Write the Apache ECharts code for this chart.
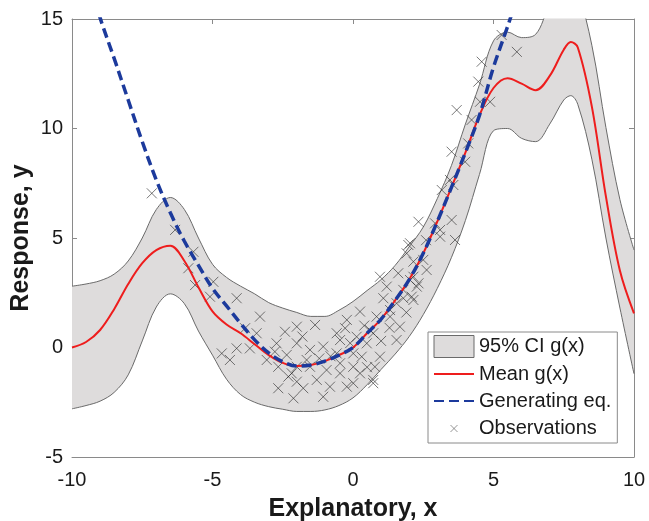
<!DOCTYPE html>
<html>
<head>
<meta charset="utf-8">
<script src="https://cdn.jsdelivr.net/npm/echarts@6/dist/echarts.min.js"></script>
<style>
html,body{margin:0;padding:0;background:#fff;}
#chart{width:649px;height:521px;}
</style>
</head>
<body>
<div id="chart"></div>
<script>
// ---- data ----
var xGrid = [-10,-9.5,-9,-8.5,-8,-7.5,-7,-6.5,-6,-5.5,-5,-4.5,-4,-3.5,-3,-2.5,-2,-1.5,-1,-0.5,0,0.5,1,1.5,2,2.5,3,3.5,4,4.5,5,5.5,6,6.5,7,7.5,7.75,8,8.5,9,9.5,10];
var meanY = [0.0,0.25,0.8,1.75,2.9,3.85,4.45,4.65,3.95,2.75,1.65,1.05,0.65,0.15,-0.35,-0.7,-0.85,-0.8,-0.62,-0.35,0.0,0.65,1.3,2.15,3.1,4.3,5.75,7.3,8.9,10.6,11.85,12.3,12.05,11.75,12.4,13.6,13.95,13.7,11.0,6.9,3.5,1.56];
var upperY = [2.8,2.9,3.05,3.35,3.95,5.0,6.3,6.85,6.3,5.0,3.8,3.2,2.8,2.45,2.05,1.8,1.6,1.42,1.42,1.7,2.1,2.6,3.1,3.75,4.6,5.5,6.8,8.3,10.2,12.0,14.0,14.4,14.15,14.3,15.6,16.3,16.35,16.2,13.8,10.05,6.75,4.45];
var lowerY = [-2.8,-2.65,-2.45,-2.05,-1.25,0.3,1.85,2.45,2.0,0.75,-0.35,-1.45,-2.15,-2.5,-2.7,-2.82,-2.92,-2.92,-2.85,-2.65,-2.3,-1.7,-1.0,-0.3,0.5,1.5,2.7,4.1,5.8,7.9,9.9,10.0,9.55,9.4,10.2,11.3,11.5,11.1,8.6,5.0,1.8,-1.2];
var genX = [-9.5,-9,-8.5,-8,-7.5,-7,-6.5,-6,-5.5,-5,-4.5,-4,-3.5,-3,-2.5,-2,-1.5,-1,-0.5,0,0.5,1,1.5,2,2.5,3,3.5,4,4.5,5,5.5,6];
var genY = [17.2,15.05,13.2,11.3,9.4,7.65,6.15,4.85,3.75,2.7,1.9,1.1,0.35,-0.25,-0.65,-0.85,-0.8,-0.62,-0.35,0.0,0.65,1.3,2.15,3.1,4.3,5.75,7.3,8.9,10.6,12.8,14.65,16.6];
var obsX = [-7.16,-6.33,-5.68,-5.86,-5.62,-4.97,-5.09,-4.14,-3.31,-3.84,-3.43,-2.42,-2.0,-4.67,-4.38,-4.14,-3.67,-3.07,-2.72,-2.78,-2.36,-2.66,-2.3,-2.66,-2.0,-2.12,-2.0,-1.35,-2.0,-1.53,-1.65,-1.06,-0.58,-0.46,-0.28,-0.22,0.25,0.96,1.2,1.08,1.61,1.79,1.97,2.15,2.03,1.32,0.84,0.6,0.13,0.49,0.01,0.31,0.96,0.78,1.55,0.72,-0.94,-0.46,0.01,-0.82,-0.22,-1.06,-1.29,-1.77,-2.18,-1.53,-0.58,1.67,2.15,2.27,5.83,5.29,4.58,4.46,4.88,4.52,3.69,4.22,4.1,3.51,3.99,3.16,3.57,2.33,3.51,3.63,3.1,2.03,1.91,2.5,2.62,2.15,2.33,1.79,2.09,2.92,3.1,1.55,0.72,1.32,3.45,0.25,0.72,0.01,-0.46,-1.2,-0.8,-1.8,1.3,1.0,-0.1,0.4,0.5,1.9,2.6];
var obsY = [7.04,5.37,4.37,3.62,2.85,3.0,2.32,2.25,1.41,0.88,0.65,0.72,0.95,-0.27,-0.57,-0.04,-0.04,-0.57,0.19,-0.19,-0.34,-0.88,-1.33,-1.86,-1.56,-2.32,-0.88,1.03,0.19,-0.11,-0.57,0.04,0.65,0.34,0.88,1.26,1.64,3.23,2.78,2.25,3.39,2.25,4.68,3.92,3.08,1.71,1.41,0.8,0.49,0.19,-0.27,-0.42,-0.42,-0.88,0.34,-1.48,-1.03,-1.18,-0.88,-1.79,-1.79,-2.25,-1.48,-1.86,-1.18,-0.88,-0.27,0.95,2.17,2.78,13.5,14.27,13.05,12.14,11.22,11.22,10.84,10.39,9.32,8.94,8.48,7.19,7.42,5.74,5.82,4.91,5.37,4.76,4.3,4.0,3.54,3.23,2.93,2.63,2.32,5.67,5.06,2.02,0.65,1.41,7.65,-1.18,-1.63,-1.63,-0.72,-0.5,-0.4,0.5,0.9,0.3,0.2,1.0,-0.9,1.6,4.9];
var xTicks = {min: -10, max: 10, interval: 5};
var yTicks = {min: -5, max: 15, interval: 5};

function zip(xa, ya) { return xa.map(function (x, i) { return [x, ya[i]]; }); }

var FONT = '"Liberation Sans", Arial, Helvetica, sans-serif';
var AXIS_COL = '#8a8a8a';
var BAND = '#dedcdc';
var chart = echarts.init(document.getElementById('chart'), null, {renderer: 'canvas'});

function xAx(pos, show) {
  return {
    type: 'value', position: pos, min: xTicks.min, max: xTicks.max, interval: xTicks.interval,
    axisLine: {show: true, onZero: false, lineStyle: {color: AXIS_COL, width: 1}},
    axisTick: {show: true, inside: true, length: 5, lineStyle: {color: AXIS_COL}},
    axisLabel: {show: show, fontSize: 20, fontFamily: FONT, color: '#1a1a1a', margin: 13},
    splitLine: {show: false},
    name: show ? 'Explanatory, x' : '', nameLocation: 'middle', nameGap: 40,
    nameTextStyle: {fontSize: 25, fontWeight: 'bold', fontFamily: FONT, color: '#1a1a1a'}
  };
}
function yAx(pos, show) {
  return {
    type: 'value', position: pos, min: yTicks.min, max: yTicks.max, interval: yTicks.interval,
    axisLine: {show: true, onZero: false, lineStyle: {color: AXIS_COL, width: 1}},
    axisTick: {show: true, inside: true, length: 5, lineStyle: {color: AXIS_COL}},
    axisLabel: {show: show, fontSize: 20, fontFamily: FONT, color: '#1a1a1a', margin: 9},
    splitLine: {show: false},
    name: show ? 'Response, y' : '', nameLocation: 'middle', nameGap: 38, nameMoveOverlap: false,
    nameTextStyle: {fontSize: 25, fontWeight: 'bold', fontFamily: FONT, color: '#1a1a1a'}
  };
}

var hideSym = {color: 'rgba(0,0,0,0)', borderWidth: 0, opacity: 0};

var option = {
  animation: false,
  backgroundColor: '#ffffff',
  grid: {left: 72, right: 15, top: 19, bottom: 64, containLabel: false, outerBoundsMode: 'none'},
  xAxis: [xAx('bottom', true), xAx('top', false)],
  yAxis: [yAx('left', true), yAx('right', false)],
  legend: {
    left: 428, top: 332, orient: 'vertical',
    backgroundColor: '#ffffff', borderColor: '#8a8a8a', borderWidth: 1, borderRadius: 0,
    padding: [3, 6, 3, 5], itemGap: 5, itemWidth: 40, itemHeight: 22,
    selectedMode: false,
    textStyle: {fontSize: 20, fontFamily: FONT, color: '#1a1a1a', lineHeight: 22},
    data: [
      {name: '95% CI g(x)', icon: 'rect', itemStyle: {color: BAND, borderColor: '#6a6a6a', borderWidth: 1}},
      {name: 'Mean g(x)', itemStyle: hideSym},
      {name: 'Generating eq.', itemStyle: hideSym},
      {name: 'Observations', icon: 'path://M0,0M40,22M16.5,7.5L23.5,14.5M23.5,7.5L16.5,14.5',
       itemStyle: {color: 'rgba(0,0,0,0)', borderColor: 'rgba(90,90,90,0.8)', borderWidth: 1}}
    ]
  },
  series: [
    {
      // upper confidence bound, filled down to the axis floor
      name: '95% CI g(x)', type: 'line', data: zip(xGrid, upperY),
      smooth: 0.35, showSymbol: false, symbol: 'none',
      lineStyle: {color: '#6a6a6a', width: 1},
      itemStyle: {color: BAND},
      areaStyle: {color: BAND, opacity: 1, origin: 'start'}, z: 1
    },
    {
      // lower confidence bound, white fill below it cuts out the band
      name: 'lowerCI', type: 'line', data: zip(xGrid, lowerY),
      smooth: 0.35, showSymbol: false, symbol: 'none',
      lineStyle: {color: '#6a6a6a', width: 1},
      areaStyle: {color: '#ffffff', opacity: 1, origin: 'start'}, z: 1
    },
    {
      name: 'Observations', type: 'scatter', data: zip(obsX, obsY),
      symbol: 'path://M0,0L10,10M10,0L0,10', symbolSize: 10,
      itemStyle: {color: 'rgba(0,0,0,0)', borderColor: 'rgba(45,45,45,0.8)', borderWidth: 1},
      z: 2
    },
    {
      name: 'Mean g(x)', type: 'line', data: zip(xGrid, meanY),
      smooth: 0.35, showSymbol: false, symbol: 'none',
      lineStyle: {color: '#ee1d1d', width: 2}, itemStyle: {color: '#ee1d1d'}, z: 3
    },
    {
      name: 'Generating eq.', type: 'line', data: zip(genX, genY),
      smooth: 0.35, showSymbol: false, symbol: 'none',
      lineStyle: {color: '#1c3a9c', width: 3.5, type: [10, 5]}, itemStyle: {color: '#1c3a9c'}, z: 4
    }
  ]
};
chart.setOption(option);
</script>
</body>
</html>
